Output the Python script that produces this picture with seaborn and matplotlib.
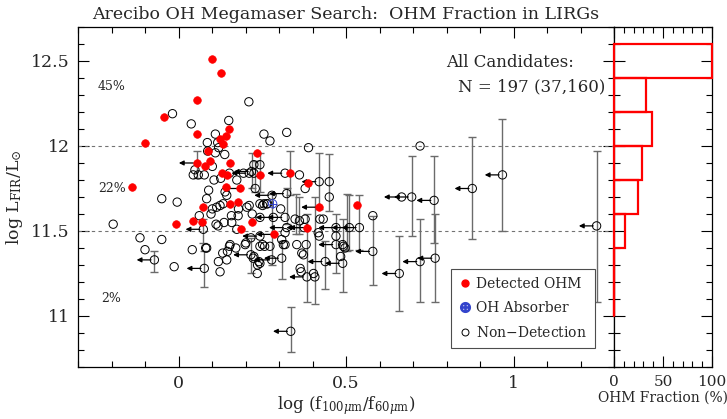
import numpy as np
import pandas as pd
import matplotlib
matplotlib.use('Agg')
import matplotlib.pyplot as plt
from matplotlib.lines import Line2D
from matplotlib.ticker import MultipleLocator
import seaborn as sns

# detected OH megamasers (log f100/f60, log LFIR)
det_x = [0.100, 0.128, 0.055, -0.044, -0.099, 0.056, 0.151, 0.141, 0.125, 0.134,
         0.235, 0.087, 0.094, 0.054, 0.080, 0.155, -0.140, 0.130, 0.144, 0.244,
         0.141, 0.183, 0.177, 0.154, 0.074, 0.043, -0.008, 0.070, 0.220, 0.187,
         0.334, 0.386, 0.419, 0.534, 0.383, 0.285]
det_y = [12.51, 12.43, 12.27, 12.17, 12.02, 12.07, 12.10, 12.06, 12.04, 12.01,
         11.96, 11.97, 11.91, 11.90, 11.88, 11.90, 11.76, 11.84, 11.83, 11.83,
         11.76, 11.75, 11.67, 11.66, 11.64, 11.56, 11.54, 11.55, 11.55, 11.51,
         11.84, 11.78, 11.64, 11.65, 11.52, 11.48]

# OH absorber
abs_x = [0.281]
abs_y = [11.66]

# non-detections
non_x = [-0.018, 0.038, 0.210, 0.150, 0.110, 0.086, 0.117, 0.120, 0.087, 0.110,
         0.138, 0.255, 0.273, 0.323, 0.388, 0.721,
         0.101, 0.049, 0.044, 0.059, 0.077, 0.106, 0.126, 0.152, 0.174, 0.194,
         0.211, 0.225, 0.225, 0.243,
         0.090, 0.139, 0.144, -0.050, -0.004, 0.101, 0.097, 0.114, 0.124, 0.133,
         0.062, 0.112, 0.118, 0.136, 0.159, 0.158, 0.179, 0.178, 0.204, 0.211,
         0.220, 0.243, 0.255, 0.266, 0.174,
         -0.195, -0.115, -0.050, -0.100, -0.013, 0.041, 0.081, 0.084, 0.124, 0.119,
         0.132, 0.146, 0.152, 0.144, 0.171, 0.201, 0.225, 0.236, 0.251, 0.154,
         0.199, 0.216, 0.223, 0.240, 0.235,
         0.361, 0.378, 0.450, 0.305, 0.251, 0.263, 0.243, 0.348, 0.361, 0.378,
         0.318, 0.308, 0.313, 0.273, 0.417, 0.420, 0.470, 0.492, 0.422, 0.432,
         0.580, 0.363, 0.366, 0.403, 0.373, 0.243, 0.257, 0.318, 0.353, 0.381,
         0.368, 0.243, 0.484, 0.490, 0.497, 0.084,
         0.218, 0.229, 0.318, 0.420, 0.450, 0.696, 0.666, 0.763, 0.877, 0.967,
         1.248, 0.721, 0.766, 0.659, 0.580, 0.540, 0.510, 0.335, 0.383, 0.407,
         0.438, 0.490, 0.470, 0.308, 0.278, 0.283, 0.318, 0.375, 0.323, 0.243,
         0.470, 0.216, 0.077, 0.074, -0.072, 0.323, 0.279]
non_y = [12.19, 12.13, 12.26, 12.15, 12.07, 12.02, 12.02, 11.99, 11.97, 11.96,
         11.95, 12.07, 12.03, 12.08, 11.99, 12.00,
         11.88, 11.86, 11.83, 11.83, 11.83, 11.80, 11.81, 11.84, 11.80, 11.84,
         11.84, 11.89, 11.84, 11.89,
         11.74, 11.73, 11.71, 11.69, 11.67, 11.63, 11.60, 11.64, 11.65, 11.66,
         11.59, 11.54, 11.53, 11.55, 11.55, 11.59, 11.63, 11.59, 11.64, 11.65,
         11.60, 11.66, 11.66, 11.66, 11.51,
         11.54, 11.46, 11.45, 11.39, 11.29, 11.39, 11.40, 11.40, 11.26, 11.32,
         11.37, 11.38, 11.41, 11.33, 11.40, 11.43, 11.35, 11.30, 11.42, 11.42,
         11.42, 11.46, 11.34, 11.32, 11.25,
         11.83, 11.75, 11.70, 11.63, 11.65, 11.66, 11.58, 11.57, 11.56, 11.57,
         11.49, 11.45, 11.42, 11.41, 11.49, 11.47, 11.47, 11.41, 11.57, 11.57,
         11.59, 11.28, 11.26, 11.25, 11.36, 11.41, 11.41, 11.42, 11.42, 11.42,
         11.37, 11.31, 11.35, 11.42, 11.40, 11.69,
         11.85, 11.75, 11.84, 11.79, 11.79, 11.70, 11.70, 11.68, 11.75, 11.83,
         11.53, 11.32, 11.34, 11.25, 11.38, 11.52, 11.52, 10.91, 11.23, 11.23,
         11.32, 11.31, 11.42, 11.34, 11.33, 11.58, 11.58, 11.52, 11.52, 11.47,
         11.52, 11.36, 11.28, 11.51, 11.33, 11.72, 11.71]

# upper limits in f100 (left arrows)
lim_x = [0.218, 0.318, 0.420, 0.696, 0.666, 0.763, 0.877, 0.967, 1.248, 0.721,
         0.766, 0.659, 0.580, 0.540, 0.510, 0.335, 0.383, 0.438, 0.490, 0.470,
         0.308, 0.278, 0.283, 0.318, 0.375, 0.323, 0.243, 0.470, 0.216, 0.077,
         0.074, -0.072, 0.323, 0.279, 0.211, 0.054, 0.183, 0.419, 0.383, 0.285]
lim_y = [11.85, 11.84, 11.79, 11.70, 11.70, 11.68, 11.75, 11.83, 11.53, 11.32,
         11.34, 11.25, 11.38, 11.52, 11.52, 10.91, 11.23, 11.32, 11.31, 11.42,
         11.34, 11.33, 11.58, 11.58, 11.52, 11.52, 11.47, 11.52, 11.36, 11.28,
         11.51, 11.33, 11.72, 11.71, 11.84, 11.90, 11.75, 11.64, 11.52, 11.48]

# error bars on log LFIR
err_x = [0.218, 0.229, 0.244, 0.334, 0.420, 0.450, 0.696, 0.763, 0.877, 0.967,
         1.248, 0.721, 0.766, 0.659, 0.580, 0.540, 0.510, 0.335, 0.383, 0.407,
         0.438, 0.490, 0.470, 0.308, 0.278, 0.216, 0.077, 0.074, -0.072, 0.323,
         0.054, 0.350, 0.361, 0.502]
err_lo = [11.75, 11.73, 11.73, 11.71, 11.63, 11.62, 11.47, 11.43, 11.45, 11.50,
          11.08, 11.08, 11.08, 11.03, 11.18, 11.39, 11.39, 10.79, 11.08, 11.07,
          11.16, 11.14, 11.25, 11.22, 11.30, 11.25, 11.17, 11.43, 11.26, 11.54,
          11.81, 11.48, 11.48, 11.38]
err_hi = [11.96, 11.91, 11.96, 11.97, 11.96, 11.95, 11.94, 11.94, 12.05, 12.16,
          11.97, 11.57, 11.60, 11.47, 11.59, 11.71, 11.71, 11.05, 11.60, 11.70,
          11.44, 11.57, 11.60, 11.44, 11.72, 11.46, 11.38, 11.57, 11.38, 11.75,
          11.97, 11.72, 11.70, 11.72]

# OHM fraction histogram (0.2 dex bins)
bin_lo = [11.0, 11.2, 11.4, 11.6, 11.8, 12.0, 12.2, 12.4]
ohm_frac = [0, 0, 11, 24, 29, 39, 33, 100]

sns.set_style('ticks')
plt.rcParams['font.family'] = ['DejaVu Serif']
plt.rcParams['mathtext.fontset'] = 'dejavuserif'

fig = plt.figure(figsize=(7.27, 4.19), dpi=100)
ax = fig.add_axes([0.1073, 0.1241, 0.7373, 0.8115])
axh = fig.add_axes([0.8446, 0.1241, 0.1348, 0.8115])

ax.axhline(12.0, color='0.45', lw=0.8, ls=(0, (3, 3)), zorder=1)
ax.axhline(11.5, color='0.45', lw=0.8, ls=(0, (3, 3)), zorder=1)

mid = (np.array(err_lo) + np.array(err_hi)) / 2
half = (np.array(err_hi) - np.array(err_lo)) / 2
ax.errorbar(err_x, mid, yerr=half, fmt='none', ecolor='0.42', elinewidth=1.0,
            capsize=3, capthick=1.0, zorder=2)

for x, y in zip(lim_x, lim_y):
    ax.annotate('', xy=(x - 0.053, y), xytext=(x - 0.010, y),
                arrowprops=dict(arrowstyle='-|>', color='black', lw=0.9,
                                mutation_scale=7, shrinkA=0, shrinkB=0),
                zorder=3)

sns.scatterplot(x=non_x, y=non_y, ax=ax, marker='o', s=36, facecolors='none',
                edgecolors='black', linewidth=0.7, zorder=4)
sns.scatterplot(x=abs_x, y=abs_y, ax=ax, marker='o', s=36, facecolors='none',
                edgecolors='#3344cc', linewidth=0.7, zorder=5)
sns.scatterplot(x=abs_x, y=abs_y, ax=ax, marker='+', s=30, color='#3344cc',
                linewidth=0.7, zorder=5)
sns.scatterplot(x=det_x, y=det_y, ax=ax, marker='o', s=30, color='#ff0000',
                edgecolor='#ff0000', linewidth=0.5, zorder=6)

ax.set_xlim(-0.3, 1.3)
ax.set_ylim(10.7, 12.7)
ax.xaxis.set_minor_locator(MultipleLocator(0.1))
ax.yaxis.set_minor_locator(MultipleLocator(0.1))
ax.set_xticks([0, 0.5, 1])
ax.set_xticklabels(['0', '0.5', '1'])
ax.set_yticks([11, 11.5, 12, 12.5])
ax.set_yticklabels(['11', '11.5', '12', '12.5'])
for a in (ax, axh):
    a.tick_params(which='both', direction='in', top=True, right=True,
                  color='black', width=0.8)
    a.tick_params(which='major', length=8, labelsize=12.5, pad=6)
    a.tick_params(which='minor', length=4)
    for s in a.spines.values():
        s.set_color('black')
        s.set_linewidth(0.9)

ax.set_xlabel(r'log (f$_{100\mu{\rm m}}$/f$_{60\mu{\rm m}}$)', fontsize=12, labelpad=1)
ax.set_ylabel(r'log L$_{\rm FIR}$/L$_{\odot}$', fontsize=12.5, labelpad=4)
ax.set_title('Arecibo OH Megamaser Search:  OHM Fraction in LIRGs', fontsize=12.5, pad=6)

ax.text(-0.24, 12.35, '45%', fontsize=9, va='center')
ax.text(-0.24, 11.75, '22%', fontsize=9, va='center')
ax.text(-0.23, 11.1, '2%', fontsize=9, va='center')
ax.text(0.80, 12.49, 'All Candidates:', fontsize=12, va='center')
ax.text(0.834, 12.35, 'N = 197 (37,160)', fontsize=12, va='center')

handles = [
    Line2D([], [], ls='none', marker='o', ms=5, color='#ff0000'),
    Line2D([], [], ls='none', marker=r'$\oplus$', ms=7, color='#3344cc'),
    Line2D([], [], ls='none', marker='o', ms=5, mfc='none', mec='black', mew=0.7),
]
leg = ax.legend(handles, ['Detected OHM', 'OH Absorber', 'Non$-$Detection'],
                loc='lower left', bbox_to_anchor=(0.696, 0.056), fontsize=10,
                frameon=True, fancybox=False, framealpha=1, edgecolor='0.3',
                handlelength=0.8, handletextpad=0.4, borderpad=0.6,
                labelspacing=0.7, borderaxespad=0)
leg.get_frame().set_linewidth(0.8)

# histogram of OHM fraction
for lo, f in zip(bin_lo, ohm_frac):
    axh.barh(lo, f, height=0.2, align='edge', fill=False, edgecolor='#ff0000',
             linewidth=1.6, zorder=5, clip_on=False)
    if f == 0:
        axh.plot([0, 0], [lo, lo + 0.2], color='#ff0000', lw=1.6, zorder=6,
                 clip_on=False)
axh.set_xlim(0, 100)
axh.set_ylim(10.7, 12.7)
axh.set_xticks([0, 50, 100])
axh.xaxis.set_minor_locator(MultipleLocator(10))
axh.yaxis.set_major_locator(MultipleLocator(0.5))
axh.yaxis.set_minor_locator(MultipleLocator(0.1))
axh.set_yticklabels([])
axh.tick_params(axis='x', labelsize=11)
axh.set_xlabel('OHM Fraction (%)', fontsize=10, labelpad=1)

fig.savefig('out.png', dpi=100)
